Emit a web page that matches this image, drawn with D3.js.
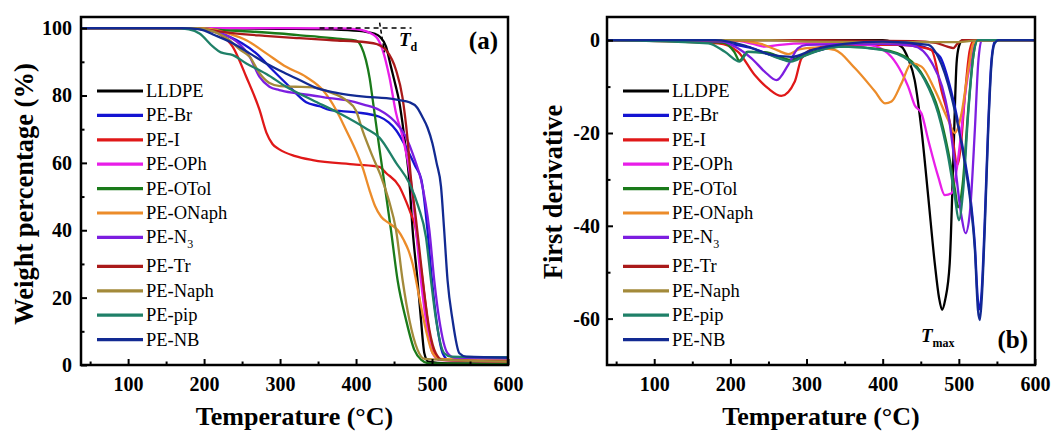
<!DOCTYPE html>
<html>
<head>
<meta charset="utf-8">
<script src="https://cdn.jsdelivr.net/npm/d3@7"></script>
<style>
body{margin:0;background:#fff;}
svg text{font-family:"Liberation Serif","Times New Roman",serif;fill:#000;}
</style>
</head>
<body>
<svg id="chart" width="1056" height="435"></svg>
<script>
// ---------- data ----------
const seriesNames=["LLDPE","PE-Br","PE-I","PE-OPh","PE-OTol","PE-ONaph","PE-N3","PE-Tr","PE-Naph","PE-pip","PE-NB"];
const seriesColors=["#000000","#1414d2","#e01818","#e81ee8","#1a7a1a","#ec8c2a","#7c1ee0","#aa1a1a","#a38a3a","#1f8068","#122a92"];

const xTicks=[100,200,300,400,500,600];
const xMinorTicks=[50,150,250,350,450,550];
const weightTicks=[0,20,40,60,80,100];
const weightMinorTicks=[10,30,50,70,90];
const derivTicks=[-60,-40,-20,0];
const derivMinorTicks=[-50,-30,-10];

// (a) weight % vs temperature
const tgaLLDPE=[[38,100],[200,100],[300,99.8],[380,99.5],[410,99],[425,98.3],[431,97.5],[439.5,94.5],[446,88.5],[452,83],[457,78],[461,72],[465,65],[470,55],[474.5,40],[481,25],[485.5,13.4],[489.9,3.5],[495,1],[520,0.5],[600,0.4]];
const tgaBr=[[38,100],[180,100],[205,99.3],[233.6,97.4],[250,95.5],[268.7,92.5],[290.5,87.5],[312.5,82.6],[334.4,78],[352,76.8],[365,75.7],[400,75],[430.7,73.7],[443,72],[452.7,69.7],[465,65],[478,59],[486,55],[494,40],[500,25],[506,13],[514,3.5],[522,1.5],[600,1.2]];
const tgaI=[[38,100],[195,100],[210,99.5],[220,98.3],[237.6,94.5],[255.6,85.5],[273,75.7],[282,69],[290,65.6],[299,64],[320,62],[343,60.8],[400,59.5],[430.7,58.8],[439.5,57],[457,53],[466,48.5],[472,45],[478,41],[483,33],[487.6,25],[494,13.4],[499,6],[503,3.5],[510,1.5],[600,1]];
const tgaOPh=[[38,100],[300,100],[380,99.9],[400,99.7],[408.4,99.4],[426.4,97.4],[435,93.5],[443.9,85.5],[452.7,74.7],[461.4,67.7],[472,55],[479,40],[485.5,25],[492,13.4],[500.8,3.5],[510,1.5],[600,1]];
const tgaOTol=[[38,100],[190,100],[220,99.5],[260,99],[300,98.4],[340,97.6],[380,96.8],[400,96.3],[407,94.5],[413,90.5],[418,85],[422,78.6],[430.7,64.4],[437.3,54],[446,40],[454.8,25],[465.8,13.4],[476.7,4.5],[486,1.5],[495,0.5],[600,0.3]];
const tgaONaph=[[38,100],[190,100],[210,99.7],[230,98.5],[255.6,96.4],[281.9,92.5],[308,88.5],[334.4,85.5],[356.2,81.6],[373.8,75.7],[387,69.7],[400,63.5],[408.8,58.5],[417.6,52],[425,47.2],[433,44],[444,42],[455,40],[463,37],[469,34],[474.5,30],[483.3,20],[492,10.4],[500.8,3.5],[510,1.8],[600,1.5]];
const tgaN3=[[38,100],[180,100],[205,99.4],[233.6,97.4],[260,91.5],[273,85.5],[286,82.6],[299,81.6],[320,80.7],[342.7,80],[365,79.2],[387,78.6],[410,77.3],[430.7,75.7],[450,72.5],[465,68],[478,60.5],[485.5,55],[496.5,40],[503,25],[509.6,13.4],[520.5,3.5],[530,2.2],[600,2]];
const tgaTr=[[38,100],[180,100],[200,99.6],[237.6,98.5],[280,97.7],[325.6,97],[369,96.4],[413,95.8],[428,95.2],[439.5,93.5],[452.7,87.5],[461,79.6],[467.5,67.7],[472.4,55],[478,45],[485,31],[490,21],[496.5,10.5],[505,3.5],[514,1.5],[600,1]];
const tgaNaph=[[38,100],[190,100],[205,99.5],[230,97],[248,93.5],[260,91.5],[273,86.6],[286,83.7],[300,82.8],[320,82.6],[342.7,82.4],[365,81],[387,78.6],[400,75.5],[408.4,69.7],[421.6,62],[432,56.5],[443,49],[452.7,40],[461.4,25],[470.2,13.4],[481,4.5],[490,1.8],[600,1]];
const tgaPip=[[38,100],[160,100],[180,99.6],[194,98.4],[211.7,94.5],[222,92.8],[238,92],[255.6,89.5],[273,87.5],[282,86.4],[308,82.6],[343,78.6],[378,74.7],[413,70.2],[430.7,67.5],[452.7,60],[470,54],[482,47],[492,38],[498.7,25],[505.3,13.4],[516,3.5],[525,2.5],[600,2.3]];
const tgaNB=[[38,100],[170,100],[194.5,99.6],[215,97.8],[237.6,95.5],[260,92.5],[281.9,89.5],[305,86.8],[325.6,84.6],[345,82.5],[369,81],[390,80.2],[413.6,79.6],[440,79.2],[457,78.6],[470.2,78],[480,76.5],[487.2,73.7],[494,70.5],[500.4,65.9],[506,60],[511.8,53],[516,40],[520.5,25],[527,13.4],[536,3.5],[545,2.5],[600,2.2]];

// (b) first derivative vs temperature
const dtgLLDPE=[[38,0],[400,0],[424.7,-1.4],[433.5,-4],[442,-8.6],[451,-19.4],[459.8,-33.7],[468.4,-48.1],[474,-55.5],[478,-58.1],[482,-56],[488,-48.1],[492.6,-26.5],[497,-5],[500,-1.4],[505,0],[600,0]];
const dtgBr=[[38,0],[170,0],[200,-0.8],[230,-1.8],[255,-3.3],[276,-4.3],[300,-3],[328.5,-1.7],[360,-1.1],[389.7,-0.7],[430,-0.8],[455,-1.5],[475,-3.5],[490,-11],[507,-25],[516,-35],[521,-44],[525,-56],[527.5,-58],[530,-54],[534,-39],[538.6,-18],[543,-4],[548,0],[600,0]];
const dtgI=[[38,0],[184,-0.7],[210,-2.5],[232,-7.5],[249.7,-10.4],[267,-12],[284.6,-8.9],[293.4,-3.9],[310.9,-1.7],[350,-1],[420,-1],[450,-1.5],[464,-2.1],[477,-10.7],[490.4,-19.4],[498,-26.8],[503,-22],[507.8,-12.2],[514.4,-2.1],[520,0],[600,0]];
const dtgOPh=[[38,0],[200,0],[230,-0.8],[245,-1.4],[265,-1],[300,-0.7],[380,-1],[400,-2],[411.6,-3.6],[425,-7],[433.5,-10],[442,-14],[451,-15.8],[459.8,-21.5],[472.9,-29.4],[481.6,-33.4],[490.4,-33],[497,-28],[503,-20],[507.8,-12.2],[516.6,-3.6],[522,0],[600,0]];
const dtgOTol=[[38,0],[190,-0.5],[205,-2.5],[212,-4.4],[222,-2.5],[245,-2.6],[280,-4.2],[311,-2.4],[350,-1.4],[398.5,-2],[433.5,-4],[455,-8.2],[473,-15],[486,-24],[494.7,-32],[499,-36],[505,-31],[512.3,-15],[519,-3.4],[525,0],[600,0]];
const dtgONaph=[[38,0],[200,0],[240,-0.8],[262,-2.2],[276,-3],[290,-2],[310,-1.6],[337,-2.1],[363.4,-6],[389.7,-11],[403,-13.6],[411.6,-13.2],[424.7,-9.3],[437.8,-5],[451,-5.7],[468.4,-10.7],[486,-17.2],[494.7,-20],[503.5,-15.8],[512.3,-6.4],[518.9,-0.7],[525,0],[600,0]];
const dtgN3=[[38,0],[190,-0.3],[201.5,-1],[227.8,-3.9],[245.3,-6.8],[260.6,-8.6],[276,-5.3],[289,-1.7],[300,-1],[400,-0.8],[440,-1.2],[465,-5],[478,-10],[486,-15.8],[494.7,-26.5],[503.5,-38],[508.7,-41.6],[514.4,-37.3],[521,-19.4],[525.4,-5],[530,0],[600,0]];
const dtgTr=[[38,0],[300,0],[440,-0.2],[470,-0.6],[485,-1.4],[492.6,-1.7],[498,-0.8],[505,0],[600,0]];
const dtgNaph=[[38,0],[250,0],[300,-0.3],[400,-0.4],[500,-0.4],[520,-0.1],[600,0]];
const dtgPip=[[38,0],[171,-0.7],[192.8,-2.5],[212.4,-4.6],[223.4,-2.5],[245,-2.8],[262,-3.8],[280,-4.6],[296,-3.5],[311,-2.5],[346,-1.4],[398.5,-2.1],[433.5,-4.3],[455.3,-8.6],[472.9,-15.8],[486,-25.1],[494.7,-33.7],[500,-38.8],[505.7,-32.3],[512.3,-15.8],[518.9,-3.6],[525,0],[600,0]];
const dtgNB=[[38,0],[180,0],[220,-1.2],[250,-3],[280,-3.6],[310,-2],[350,-0.8],[400,-0.3],[460,-1],[472.9,-3.6],[490.4,-12.2],[507.8,-26.5],[516,-36],[521,-45],[525,-58],[527.6,-60.3],[530,-56],[534,-40.9],[538.6,-19.4],[542.9,-5],[547,-0.7],[552,0],[600,0]];

const tgaData=[tgaLLDPE,tgaBr,tgaI,tgaOPh,tgaOTol,tgaONaph,tgaN3,tgaTr,tgaNaph,tgaPip,tgaNB];
const dtgData=[dtgLLDPE,dtgBr,dtgI,dtgOPh,dtgOTol,dtgONaph,dtgN3,dtgTr,dtgNaph,dtgPip,dtgNB];

// ---------- layout ----------
const svg=d3.select("#chart");
const panels=[
    {id:"a",left:81,right:508,top:17,bottom:365,yDomain:[0,103.3],yMajor:weightTicks,yMinor:weightMinorTicks,
     data:tgaData,legendX:97,yPad:9,title:"Weight percentage (%)",titleX:33,titleY:194},
    {id:"b",left:607,right:1035,top:17,bottom:365,yDomain:[-70,5],yMajor:derivTicks,yMinor:derivMinorTicks,
     data:dtgData,legendX:623,yPad:7,title:"First derivative",titleX:562,titleY:192}
];

panels.forEach(p=>{
    const x=d3.scaleLinear().domain([38,600]).range([p.left,p.right]);
    const y=d3.scaleLinear().domain(p.yDomain).range([p.bottom,p.top]);
    p.x=x;p.y=y;
    const g=svg.append("g");

    svg.append("clipPath").attr("id","clip-"+p.id)
        .append("rect")
        .attr("x",p.left).attr("y",p.top)
        .attr("width",p.right-p.left).attr("height",p.bottom-p.top);

    // curves
    const line=d3.line()
        .x(d=>x(d[0]))
        .y(d=>y(d[1]))
        .curve(d3.curveMonotoneX);
    const lines=g.append("g").attr("clip-path",`url(#clip-${p.id})`);
    p.data.forEach((s,i)=>{
        lines.append("path")
            .attr("d",line(s))
            .attr("fill","none")
            .attr("stroke",seriesColors[i])
            .attr("stroke-width",2.3)
            .attr("stroke-linejoin","round");
    });

    // axes (ticks inward)
    const styleAxis=a=>{
        a.select(".domain").remove();
        a.selectAll(".tick line").attr("stroke","#000").attr("stroke-width",2);
        a.selectAll(".tick text")
            .attr("font-size",20)
            .attr("font-weight","bold")
            .attr("font-family","'Liberation Serif','Times New Roman',serif");
    };
    g.append("g").attr("transform",`translate(0,${p.bottom})`)
        .call(d3.axisBottom(x).tickValues(xTicks).tickSize(-6).tickPadding(12).tickFormat(d=>String(d)))
        .call(styleAxis);
    g.append("g").attr("transform",`translate(0,${p.bottom})`)
        .call(d3.axisBottom(x).tickValues(xMinorTicks).tickSize(-3.5).tickFormat(""))
        .call(styleAxis);
    g.append("g").attr("transform",`translate(${p.left},0)`)
        .call(d3.axisLeft(y).tickValues(p.yMajor).tickSize(-6).tickPadding(p.yPad).tickFormat(d=>String(d)))
        .call(styleAxis);
    g.append("g").attr("transform",`translate(${p.left},0)`)
        .call(d3.axisLeft(y).tickValues(p.yMinor).tickSize(-3.5).tickFormat(""))
        .call(styleAxis);

    // frame
    g.append("rect")
        .attr("x",p.left).attr("y",p.top)
        .attr("width",p.right-p.left).attr("height",p.bottom-p.top)
        .attr("fill","none").attr("stroke","#000").attr("stroke-width",2.5);

    // axis titles
    g.append("text")
        .attr("x",(p.left+p.right)/2).attr("y",425)
        .attr("text-anchor","middle")
        .attr("font-size",26).attr("font-weight","bold")
        .text("Temperature (°C)");
    g.append("text")
        .attr("transform",`translate(${p.titleX},${p.titleY}) rotate(-90)`)
        .attr("text-anchor","middle")
        .attr("font-size",26.5).attr("font-weight","bold")
        .text(p.title);

    // legend
    const legend=g.append("g");
    seriesNames.forEach((name,i)=>{
        const ly=91+i*24.4+(i>6?4.6:0);
        legend.append("line")
            .attr("x1",p.legendX).attr("x2",p.legendX+46)
            .attr("y1",ly).attr("y2",ly)
            .attr("stroke",seriesColors[i]).attr("stroke-width",3.2);
        const t=legend.append("text")
            .attr("x",p.legendX+49).attr("y",ly+6)
            .attr("font-size",18.5);
        if(name==="PE-N3"){
            t.append("tspan").text("PE-N");
            t.append("tspan").attr("dy",5).attr("font-size",12).text("3");
        }else{
            t.text(name);
        }
    });
});

// ---------- annotations ----------
const pa=panels[0],pb=panels[1];
const ann=svg.append("g");
ann.append("line")
    .attr("x1",pa.x(352)).attr("x2",pa.x(473))
    .attr("y1",pa.y(100)).attr("y2",pa.y(100))
    .attr("stroke","#000").attr("stroke-width",1.5).attr("stroke-dasharray","5,4");
ann.append("line")
    .attr("x1",pa.x(431)).attr("x2",pa.x(437.5))
    .attr("y1",pa.y(101.6)).attr("y2",pa.y(92.8))
    .attr("stroke","#000").attr("stroke-width",1.5).attr("stroke-dasharray","4,3");

function subLabel(x,y,main,sub){
    const t=ann.append("text").attr("x",x).attr("y",y).attr("font-weight","bold");
    t.append("tspan").attr("font-style","italic").attr("font-size",19).text(main);
    t.append("tspan").attr("dy",5).attr("font-size",12).text(sub);
}
subLabel(399,46,"T","d");
subLabel(921,342,"T","max");

ann.append("text").attr("x",498).attr("y",49)
    .attr("text-anchor","end").attr("font-size",25).attr("font-weight","bold").text("(a)");
ann.append("text").attr("x",1028).attr("y",348)
    .attr("text-anchor","end").attr("font-size",25).attr("font-weight","bold").text("(b)");
</script>
</body>
</html>
